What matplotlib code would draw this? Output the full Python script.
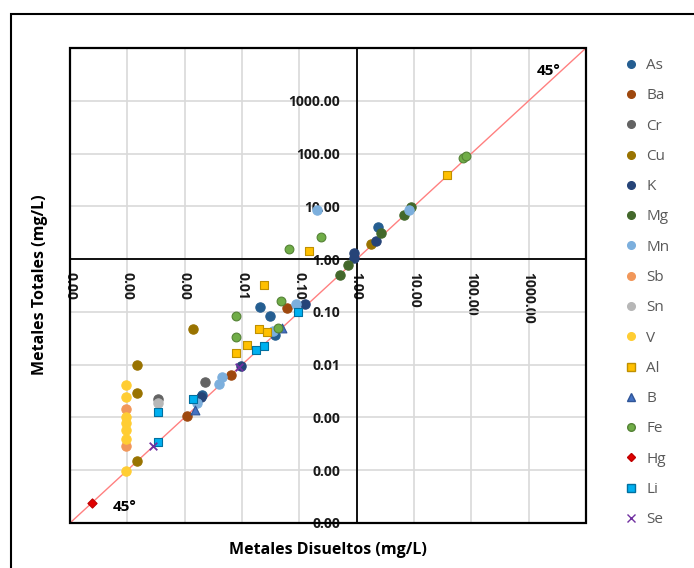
import matplotlib
matplotlib.use("Agg")
import matplotlib.pyplot as plt
from matplotlib.lines import Line2D
from matplotlib.patches import Rectangle
from matplotlib.ticker import FixedLocator, FixedFormatter

plt.rcParams['font.family'] = ['Open Sans', 'DejaVu Sans']

# dissolved vs total concentration (mg/L) per metal
as_dis = [2.4, 0.021, 0.031, 0.038, 0.0020]
as_tot = [4.0, 0.126, 0.085, 0.037, 0.0027]
ba_dis = [0.060, 0.0065, 0.0011]
ba_tot = [0.120, 0.0063, 0.00107]
cr_dis = [0.0023, 0.00034]
cr_tot = [0.0046, 0.0022]
cu_dis = [1.8, 0.0014, 0.00015, 0.00015, 0.00015]
cu_tot = [1.9, 0.048, 0.010, 0.0029, 0.00015]
k_dis = [0.90, 0.91, 2.17, 0.126, 0.0095, 0.0019]
k_tot = [1.30, 1.07, 2.17, 0.141, 0.0095, 0.0024]
mg_dis = [8.9, 6.7, 2.66, 0.72, 0.51]
mg_tot = [9.8, 6.8, 3.1, 0.79, 0.51]
mn_dis = [8.1, 0.20, 0.087, 0.035, 0.0045, 0.0039, 0.00166]
mn_tot = [8.7, 8.65, 0.141, 0.044, 0.0058, 0.0043, 0.0019]
sb_dis = [0.000095, 0.000095]
sb_tot = [0.00145, 0.00029]
sn_dis = [0.00034]
sn_tot = [0.0019]
v_dis = [0.000095] * 7
v_tot = [0.0041, 0.0024, 0.0010, 0.0008, 0.00059, 0.00039, 0.000098]
al_dis = [38, 0.148, 0.0245, 0.0195, 0.0275, 0.012, 0.0078]
al_tot = [40, 1.45, 0.33, 0.048, 0.041, 0.024, 0.0164]
b_dis = [0.049, 0.0015]
b_tot = [0.050, 0.00138]
fe_dis = [71, 81, 0.24, 0.065, 0.048, 0.042, 0.0078, 0.0078]
fe_tot = [83, 91, 2.62, 1.58, 0.162, 0.050, 0.085, 0.033]
hg_dis = [0.000024]
hg_tot = [0.000024]
li_dis = [0.093, 0.0245, 0.0174, 0.0014, 0.00034, 0.00034]
li_tot = [0.10, 0.023, 0.0186, 0.0022, 0.00126, 0.00035]
se_dis = [0.0089, 0.00028]
se_tot = [0.0089, 0.00029]

tick_vals = [1e-5, 1e-4, 1e-3, 1e-2, 1e-1, 1, 10, 100, 1000, 1e4]
tick_labels = ["0.00", "0.00", "0.00", "0.01", "0.10", "1.00", "10.00", "100.00", "1000.00", ""]

# name, x, y, marker, face, edge, size
series = [
    ("As", as_dis, as_tot, "o", "#255E91", "#255E91", 45),
    ("Ba", ba_dis, ba_tot, "o", "#9E480E", "#9E480E", 45),
    ("Cr", cr_dis, cr_tot, "o", "#636363", "#636363", 45),
    ("Cu", cu_dis, cu_tot, "o", "#997300", "#997300", 45),
    ("K", k_dis, k_tot, "o", "#264478", "#264478", 45),
    ("Mg", mg_dis, mg_tot, "o", "#43682B", "#43682B", 45),
    ("Mn", mn_dis, mn_tot, "o", "#7CAFDD", "#7CAFDD", 45),
    ("Sb", sb_dis, sb_tot, "o", "#F1975A", "#F1975A", 45),
    ("Sn", sn_dis, sn_tot, "o", "#B7B7B7", "#B7B7B7", 45),
    ("V", v_dis, v_tot, "o", "#FFCD33", "#FFCD33", 45),
    ("Al", al_dis, al_tot, "s", "#FFC000", "#BF9000", 40),
    ("B", b_dis, b_tot, "^", "#4472C4", "#2F5597", 40),
    ("Fe", fe_dis, fe_tot, "o", "#70AD47", "#548235", 40),
    ("Hg", hg_dis, hg_tot, "D", "#E00000", "#C00000", 22),
    ("Li", li_dis, li_tot, "s", "#00B0F0", "#0070A0", 40),
    ("Se", se_dis, se_tot, "x", "#7030A0", "#7030A0", 30),
]

fig = plt.figure(figsize=(6.94, 5.68), dpi=100)
ax = fig.add_axes([70 / 694, 1 - 523 / 568, 516 / 694, 475 / 568])

ax.set_xscale('log')
ax.set_yscale('log')
ax.set_xlim(1e-5, 1e4)
ax.set_ylim(1e-5, 1e4)

ax.xaxis.set_major_locator(FixedLocator(tick_vals))
ax.yaxis.set_major_locator(FixedLocator(tick_vals))
ax.xaxis.set_major_formatter(FixedFormatter(tick_labels))
ax.yaxis.set_major_formatter(FixedFormatter(tick_labels))
ax.xaxis.set_minor_locator(FixedLocator([]))
ax.yaxis.set_minor_locator(FixedLocator([]))
ax.grid(True, color='#D9D9D9', lw=1.2, zorder=0)
ax.set_axisbelow(True)

# axes cross at (1, 1)
ax.spines['left'].set_position(('data', 1))
ax.spines['bottom'].set_position(('data', 1))
for s in ax.spines.values():
    s.set_color('black')
    s.set_linewidth(1.3)
ax.add_patch(Rectangle((0, 0), 1, 1, transform=ax.transAxes, fill=False,
                       ec='black', lw=1.6, zorder=2.6, clip_on=False))

ax.tick_params(axis='x', length=0, pad=9, labelrotation=-90, labelsize=10)
ax.tick_params(axis='y', length=0, pad=12, labelsize=10)
for lab in ax.get_xticklabels() + ax.get_yticklabels():
    lab.set_fontweight('bold')
    lab.set_color('#1a1a1a')

# 1:1 line
ax.plot([1e-5, 1e4], [1e-5, 1e4], color='#FF8080', lw=1, zorder=1.5)

handles = []
for name, xs, ys, mk, fc, ec, sz in series:
    if mk == "x":
        ax.scatter(xs, ys, marker=mk, c=fc, s=sz, linewidths=1.3, zorder=3)
    else:
        ax.scatter(xs, ys, marker=mk, c=fc, edgecolors=ec, s=sz, linewidths=0.8, zorder=3)
    handles.append(Line2D([], [], ls='', marker=mk, markersize=5.5 if mk != "D" else 4.5,
                          markerfacecolor=fc, markeredgecolor=ec, label=name))

ax.text(0.905, 0.967, "45°", transform=ax.transAxes, fontsize=11,
        fontweight='bold', ha='left', va='top')
ax.text(0.083, 0.018, "45°", transform=ax.transAxes, fontsize=11,
        fontweight='bold', ha='left', va='bottom')

fig.text(328 / 694, 1 - 550 / 568, "Metales Disueltos (mg/L)", ha='center', va='center',
         fontsize=11.5, fontweight='bold')
fig.text(40 / 694, 1 - 285 / 568, "Metales Totales (mg/L)", ha='center', va='center',
         rotation=90, fontsize=11.5, fontweight='bold')

leg = fig.legend(handles=handles, loc='upper left', bbox_to_anchor=(617 / 694, 1 - 52 / 568),
                 frameon=False, fontsize=11, labelspacing=1.0, handlelength=1.0,
                 handletextpad=0.5, borderaxespad=0)
for t in leg.get_texts():
    t.set_color('#595959')

# outer chart frame
fig.add_artist(Rectangle((11 / 694, -0.1), 1.2, 1 - 14 / 568 + 0.1, transform=fig.transFigure,
                         fill=False, ec='black', lw=1.5))

fig.savefig('out.png', dpi=100)
